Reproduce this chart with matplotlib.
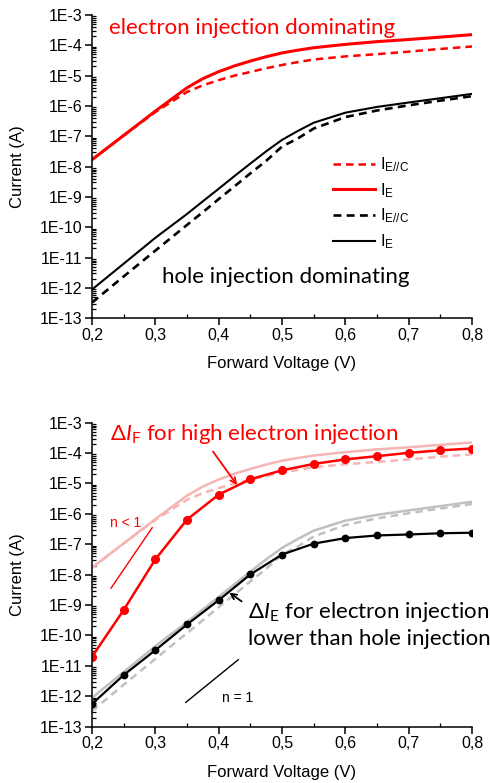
import matplotlib
matplotlib.use("Agg")
import matplotlib.pyplot as plt
from matplotlib.ticker import FixedLocator, MultipleLocator, FuncFormatter, LogLocator, NullFormatter
import numpy as np

plt.rcParams['font.family'] = ['Liberation Sans', 'DejaVu Sans']
plt.rcParams['mathtext.fontset'] = 'custom'
plt.rcParams['mathtext.rm'] = 'Lato'
plt.rcParams['mathtext.it'] = 'Lato:italic'
plt.rcParams['mathtext.fallback'] = 'stixsans'

# ---------------- data ----------------
v_curve = [0.2, 0.25, 0.3, 0.35, 0.375, 0.4, 0.425, 0.45, 0.475, 0.5, 0.525, 0.55, 0.6,
           0.65, 0.7, 0.75, 0.8]
red_IE = [1.70e-8, 1.07e-7, 6.76e-7, 3.98e-6, 7.94e-6, 1.35e-5, 2.09e-5, 3.02e-5, 4.2e-5,
          5.6e-5, 6.9e-5, 8.3e-5, 1.07e-4, 1.32e-4, 1.55e-4, 1.86e-4, 2.24e-4]
red_IEC = [1.70e-8, 1.07e-7, 6.3e-7, 2.9e-6, 4.8e-6, 7.08e-6, 1.0e-5, 1.32e-5, 1.75e-5,
           2.24e-5, 2.8e-5, 3.4e-5, 4.3e-5, 5.1e-5, 6.17e-5, 7.59e-5, 9.12e-5]
blk_IE = [8.9e-13, 6.3e-12, 4.5e-11, 2.75e-10, 7.2e-10, 1.86e-9, 4.9e-9, 1.26e-8, 3.2e-8,
          7.6e-8, 1.5e-7, 2.8e-7, 6.0e-7, 9.3e-7, 1.3e-6, 1.8e-6, 2.5e-6]
blk_IEC = [3.3e-13, 2.4e-12, 1.7e-11, 1.2e-10, 3.16e-10, 8.5e-10, 2.24e-9, 6.0e-9, 1.55e-8,
           4.6e-8, 8.5e-8, 1.8e-7, 4.3e-7, 7.1e-7, 1.05e-6, 1.5e-6, 2.1e-6]

v_pts = [0.2, 0.25, 0.3, 0.35, 0.4, 0.45, 0.5, 0.55, 0.6, 0.65, 0.7, 0.75, 0.8]
red_pts = [2.0e-11, 6.9e-10, 3.2e-8, 6.5e-7, 4.3e-6, 1.38e-5, 2.7e-5, 4.4e-5, 6.2e-5,
           7.9e-5, 1.02e-4, 1.23e-4, 1.41e-4]
blk_pts = [5.6e-13, 5.0e-12, 3.3e-11, 2.3e-10, 1.45e-9, 1.02e-8, 4.6e-8, 1.05e-7, 1.6e-7,
           1.95e-7, 2.1e-7, 2.3e-7, 2.4e-7]

slope_nlt1_v = [0.230, 0.295]
slope_nlt1_i = [3.6e-9, 3.5e-7]
slope_n1_v = [0.348, 0.431]
slope_n1_i = [6.3e-13, 1.6e-11]

x_ticks = [0.2, 0.3, 0.4, 0.5, 0.6, 0.7, 0.8]
y_exps = list(range(-13, -2))

legend_labels = [r'$\mathregular{I_{E//C}}$', r'$\mathregular{I_{E}}$',
                 r'$\mathregular{I_{E//C}}$', r'$\mathregular{I_{E}}$']

RED = '#ff0000'
PINK = '#f6b4b4'
GRAY = '#c0c0c0'
ANN_FONT = ['Lato', 'Open Sans', 'DejaVu Sans']

fig = plt.figure(figsize=(4.9, 7.83), dpi=100)
ax1 = fig.add_axes([0.1878, 0.5935, 0.7755, 0.3874])
ax2 = fig.add_axes([0.1878, 0.0719, 0.7755, 0.3883])


def style(ax):
    ax.set_yscale('log')
    ax.set_xlim(0.2, 0.8)
    ax.set_ylim(1e-13, 1e-3)
    ax.spines['top'].set_visible(False)
    ax.spines['right'].set_visible(False)
    for s in ('left', 'bottom'):
        ax.spines[s].set_linewidth(1.1)
    ax.xaxis.set_major_locator(FixedLocator(x_ticks))
    ax.xaxis.set_minor_locator(MultipleLocator(0.05))
    ax.xaxis.set_major_formatter(FuncFormatter(lambda v, p: f'{v:.1f}'.replace('.', ',')))
    ax.yaxis.set_major_locator(FixedLocator([10.0 ** e for e in y_exps]))
    ax.yaxis.set_major_formatter(FuncFormatter(lambda v, p: f'1E{int(round(np.log10(v)))}'))
    ax.yaxis.set_minor_locator(LogLocator(base=10, subs=np.arange(2, 10), numticks=100))
    ax.yaxis.set_minor_formatter(NullFormatter())
    ax.tick_params(which='major', direction='out', length=5, width=1.1, labelsize=11.5, pad=2)
    ax.tick_params(which='minor', direction='in', length=3, width=0.9)
    ax.set_xlabel('Forward Voltage (V)', fontsize=12)
    ax.set_ylabel('Current (A)', fontsize=12)
    ax.xaxis.set_label_coords(0.5, -0.125)
    ax.yaxis.set_label_coords(-0.176, 0.5)


style(ax1)
style(ax2)

# ---------------- top panel ----------------
l1, = ax1.plot(v_curve, red_IEC, color=RED, lw=1.8, dashes=(3, 2))
l2, = ax1.plot(v_curve, red_IE, color=RED, lw=2.2)
l3, = ax1.plot(v_curve, blk_IEC, color='black', lw=1.9, dashes=(3, 2))
l4, = ax1.plot(v_curve, blk_IE, color='black', lw=1.5)

leg = ax1.legend([l1, l2, l3, l4], legend_labels, loc='upper left',
                 bbox_to_anchor=(0.634, 0.537), frameon=False, fontsize=12,
                 handlelength=2.5, handletextpad=0.3, labelspacing=0.42,
                 borderpad=0, borderaxespad=0)

ax1.text(0.2268, 10 ** -3.636, 'electron injection dominating', color=RED,
         fontsize=16, family=ANN_FONT, va='baseline', ha='left')
ax1.text(0.310, 10 ** -11.846, 'hole injection dominating', color='black',
         fontsize=16, family=ANN_FONT, va='baseline', ha='left')

# ---------------- bottom panel ----------------
ax2.plot(v_curve, red_IE, color=PINK, lw=1.8)
ax2.plot(v_curve, red_IEC, color=PINK, lw=1.8, dashes=(3, 2))
ax2.plot(v_curve, blk_IE, color=GRAY, lw=1.8)
ax2.plot(v_curve, blk_IEC, color=GRAY, lw=1.8, dashes=(3, 2))
ax2.plot(v_pts, red_pts, color=RED, lw=1.8, marker='o', markersize=5.5)
ax2.plot(v_pts, blk_pts, color='black', lw=1.6, marker='o', markersize=4.6)

ax2.plot(slope_nlt1_v, slope_nlt1_i, color=RED, lw=1.0)
ax2.plot(slope_n1_v, slope_n1_i, color='black', lw=1.0)
ax2.text(0.2284, 10 ** -6.44, 'n < 1', color=RED, fontsize=10, va='baseline', ha='left')
ax2.text(0.4053, 10 ** -12.18, 'n = 1', color='black', fontsize=10, va='baseline', ha='left')

ax2.text(0.2284, 10 ** -3.57, r'$\Delta\mathit{I}_\mathrm{F}$ for high electron injection',
         color=RED, fontsize=16, family=ANN_FONT, va='baseline', ha='left')
ax2.annotate('', xy=(0.429, 10 ** -5.05), xytext=(0.391, 10 ** -3.95),
             arrowprops=dict(arrowstyle='->', color=RED, lw=1.3, shrinkA=0, shrinkB=0))

ax2.text(0.4463, 10 ** -9.42, r'$\Delta\mathit{I}_\mathrm{E}$ for electron injection',
         color='black', fontsize=16, family=ANN_FONT, va='baseline', ha='left')
ax2.text(0.4463, 10 ** -10.32, 'lower than hole injection',
         color='black', fontsize=16, family=ANN_FONT, va='baseline', ha='left')
ax2.annotate('', xy=(0.4168, 10 ** -8.59), xytext=(0.4363, 10 ** -8.88),
             arrowprops=dict(arrowstyle='->', color='black', lw=1.3, shrinkA=0, shrinkB=0))

fig.savefig('out.png', dpi=100)
